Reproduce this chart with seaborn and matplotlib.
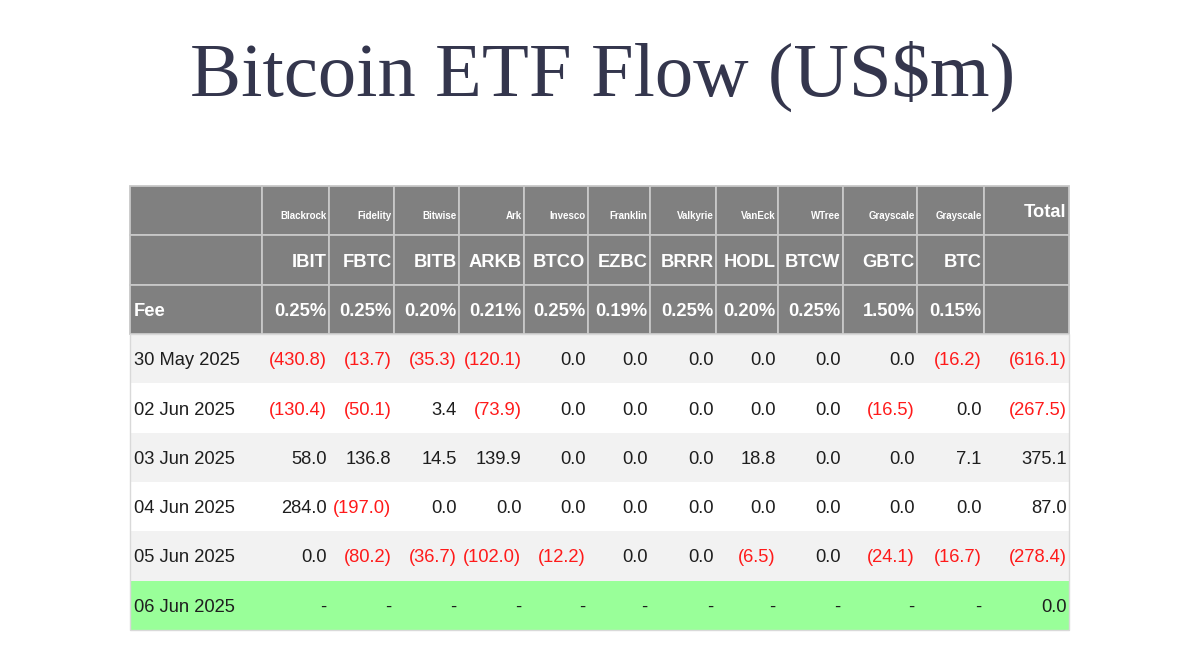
import matplotlib
matplotlib.use("Agg")
import matplotlib.pyplot as plt
from matplotlib.patches import Rectangle
import seaborn as sns

# ---------------- data ----------------
providers = ["Blackrock", "Fidelity", "Bitwise", "Ark", "Invesco", "Franklin",
             "Valkyrie", "VanEck", "WTree", "Grayscale", "Grayscale"]
tickers = ["IBIT", "FBTC", "BITB", "ARKB", "BTCO", "EZBC", "BRRR", "HODL",
           "BTCW", "GBTC", "BTC"]
fees = ["0.25%", "0.25%", "0.20%", "0.21%", "0.25%", "0.19%", "0.25%",
        "0.20%", "0.25%", "1.50%", "0.15%"]
dates = ["30 May 2025", "02 Jun 2025", "03 Jun 2025", "04 Jun 2025",
         "05 Jun 2025", "06 Jun 2025"]
flow_30may = [-430.8, -13.7, -35.3, -120.1, 0.0, 0.0, 0.0, 0.0, 0.0, 0.0, -16.2]
flow_02jun = [-130.4, -50.1, 3.4, -73.9, 0.0, 0.0, 0.0, 0.0, 0.0, -16.5, 0.0]
flow_03jun = [58.0, 136.8, 14.5, 139.9, 0.0, 0.0, 0.0, 18.8, 0.0, 0.0, 7.1]
flow_04jun = [284.0, -197.0, 0.0, 0.0, 0.0, 0.0, 0.0, 0.0, 0.0, 0.0, 0.0]
flow_05jun = [0.0, -80.2, -36.7, -102.0, -12.2, 0.0, 0.0, -6.5, 0.0, -24.1, -16.7]
flow_06jun = [None] * 11
totals = [-616.1, -267.5, 375.1, 87.0, -278.4, 0.0]
flows = [flow_30may, flow_02jun, flow_03jun, flow_04jun, flow_05jun, flow_06jun]

# ---------------- style ----------------
sns.set_theme(style="white")
plt.rcParams["font.family"] = ["Liberation Sans", "DejaVu Sans"]

HEADER_BG = "#808080"
GRID = "#c8c8c8"
BORDER = "#d9d9d9"
ROW_BG = ["#f2f2f2", "#ffffff", "#f2f2f2", "#ffffff", "#f2f2f2", "#99ff99"]
TXT = "#1e1e1e"
RED = "#ff1a1a"

W, H = 1200, 658
fig = plt.figure(figsize=(W / 100, H / 100), dpi=100)
ax = fig.add_axes([0, 0, 1, 1])
ax.set_xlim(0, W)
ax.set_ylim(H, 0)
ax.set_axis_off()

fig.text(0.502, 1 - 96 / H, "Bitcoin ETF Flow (US$m)", ha="center",
         va="baseline", fontsize=55.3, family=["Liberation Serif", "DejaVu Serif"],
         color="#34364d")

def fmt(v):
    if v is None:
        return "-", TXT
    if v < 0:
        return "(%.1f)" % (-v), RED
    return "%.1f" % v, TXT

# table content
cell_text = []
cell_col = []
cell_col.append([HEADER_BG] * 13)
cell_text.append([""] + providers + ["Total"])
cell_col.append([HEADER_BG] * 13)
cell_text.append([""] + tickers + [""])
cell_col.append([HEADER_BG] * 13)
cell_text.append(["Fee"] + fees + [""])
colors_txt = [["white"] * 13 for _ in range(3)]
for i, d in enumerate(dates):
    row = [d]
    tc = [TXT]
    for v in flows[i]:
        s, c = fmt(v)
        row.append(s)
        tc.append(c)
    s, c = fmt(totals[i])
    row.append(s)
    tc.append(c)
    cell_text.append(row)
    colors_txt.append(tc)
    cell_col.append([ROW_BG[i]] * 13)

col_px = [132, 67, 65, 65, 65, 64, 62, 66, 62, 65, 74, 67, 85]
total_px = sum(col_px)
x0 = 130
y_top, y_bot = 186, 630
n_head = 3

tbl = ax.table(cellText=cell_text, cellColours=cell_col,
               colWidths=[c / total_px for c in col_px],
               cellLoc="right",
               bbox=[x0 / W, 1 - y_bot / H, total_px / W, (y_bot - y_top) / H])
tbl.auto_set_font_size(False)

nrows = len(cell_text)
for (r, c), cell in tbl.get_celld().items():
    t = cell.get_text()
    t.set_color(colors_txt[r][c])
    t.set_fontsize(13.2)
    t.set_verticalalignment("center_baseline")
    cell.PAD = 2.5 / col_px[c]
    if c == 0:
        cell._loc = "left"
        t.set_horizontalalignment("left")
        cell.PAD = 3.5 / col_px[c]
    if r < n_head:
        cell.set_edgecolor(GRID)
        cell.set_linewidth(1.3)
        t.set_fontweight("bold")
        if r == 0 and 1 <= c <= 11:
            t.set_fontsize(7)
            t.set_verticalalignment("top")
    else:
        cell.set_edgecolor(cell.get_facecolor())
        cell.set_linewidth(0.0)

# thin outer border around the body rows
row_h = (y_bot - y_top) / nrows
body_top = y_top + n_head * row_h
ax.add_patch(Rectangle((x0, body_top), total_px, y_bot - body_top,
                       fill=False, edgecolor=BORDER, linewidth=1.0, zorder=5))

fig.savefig("out.png", dpi=100, facecolor="white")
